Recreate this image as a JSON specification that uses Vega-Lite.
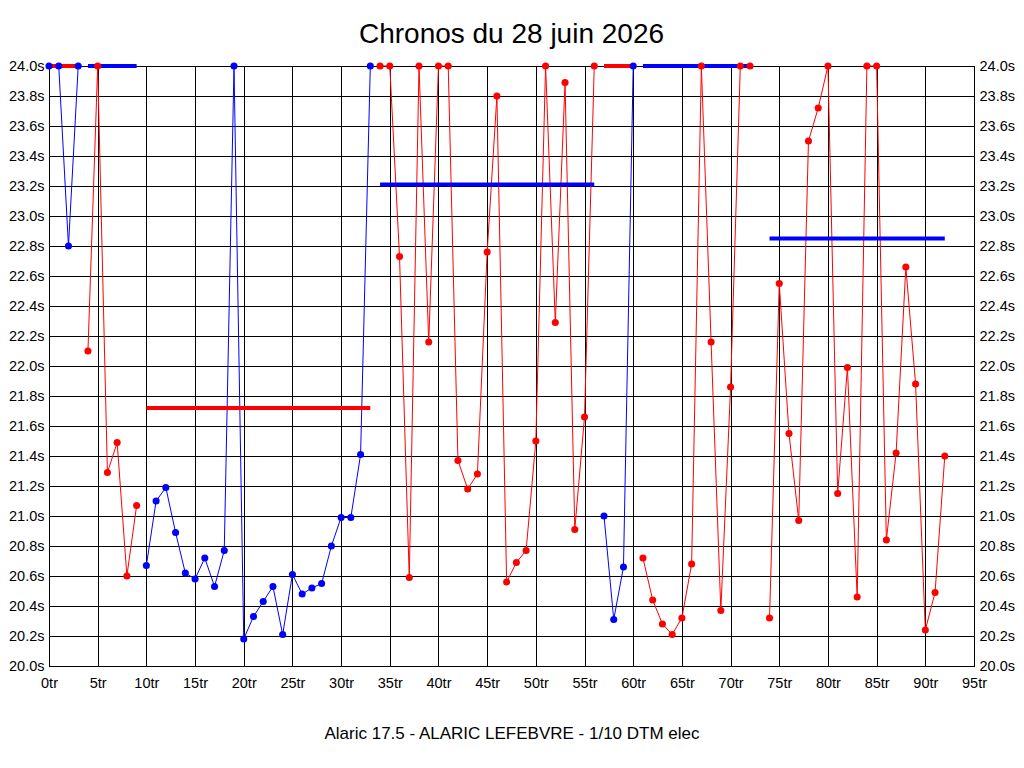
{
  "$schema": "https://vega.github.io/schema/vega-lite/v6.json",
  "autosize": {"type": "none"},
  "width": 925,
  "height": 600,
  "padding": {"left": 49, "top": 66, "right": 50, "bottom": 102},
  "background": "white",
  "title": {
    "text": "Chronos du 28 juin 2026",
    "fontSize": 28,
    "fontWeight": "normal",
    "font": "Liberation Sans",
    "color": "black",
    "anchor": "middle",
    "offset": 9
  },
  "datasets": {
    "tours": [
      {"tour": 0, "temps": 24.0, "relais": 1, "groupe": "A"},
      {"tour": 1, "temps": 24.0, "relais": 1, "groupe": "A"},
      {"tour": 2, "temps": 22.8, "relais": 1, "groupe": "A"},
      {"tour": 3, "temps": 24.0, "relais": 1, "groupe": "A"},
      {"tour": 4, "temps": 22.1, "relais": 2, "groupe": "B"},
      {"tour": 5, "temps": 24.0, "relais": 2, "groupe": "B"},
      {"tour": 6, "temps": 21.29, "relais": 2, "groupe": "B"},
      {"tour": 7, "temps": 21.49, "relais": 2, "groupe": "B"},
      {"tour": 8, "temps": 20.6, "relais": 2, "groupe": "B"},
      {"tour": 9, "temps": 21.07, "relais": 2, "groupe": "B"},
      {"tour": 10, "temps": 20.67, "relais": 3, "groupe": "A"},
      {"tour": 11, "temps": 21.1, "relais": 3, "groupe": "A"},
      {"tour": 12, "temps": 21.19, "relais": 3, "groupe": "A"},
      {"tour": 13, "temps": 20.89, "relais": 3, "groupe": "A"},
      {"tour": 14, "temps": 20.62, "relais": 3, "groupe": "A"},
      {"tour": 15, "temps": 20.58, "relais": 3, "groupe": "A"},
      {"tour": 16, "temps": 20.72, "relais": 3, "groupe": "A"},
      {"tour": 17, "temps": 20.53, "relais": 3, "groupe": "A"},
      {"tour": 18, "temps": 20.77, "relais": 3, "groupe": "A"},
      {"tour": 19, "temps": 24.0, "relais": 3, "groupe": "A"},
      {"tour": 20, "temps": 20.18, "relais": 3, "groupe": "A"},
      {"tour": 21, "temps": 20.33, "relais": 3, "groupe": "A"},
      {"tour": 22, "temps": 20.43, "relais": 3, "groupe": "A"},
      {"tour": 23, "temps": 20.53, "relais": 3, "groupe": "A"},
      {"tour": 24, "temps": 20.21, "relais": 3, "groupe": "A"},
      {"tour": 25, "temps": 20.61, "relais": 3, "groupe": "A"},
      {"tour": 26, "temps": 20.48, "relais": 3, "groupe": "A"},
      {"tour": 27, "temps": 20.52, "relais": 3, "groupe": "A"},
      {"tour": 28, "temps": 20.55, "relais": 3, "groupe": "A"},
      {"tour": 29, "temps": 20.8, "relais": 3, "groupe": "A"},
      {"tour": 30, "temps": 20.99, "relais": 3, "groupe": "A"},
      {"tour": 31, "temps": 20.99, "relais": 3, "groupe": "A"},
      {"tour": 32, "temps": 21.41, "relais": 3, "groupe": "A"},
      {"tour": 33, "temps": 24.0, "relais": 3, "groupe": "A"},
      {"tour": 34, "temps": 24.0, "relais": 4, "groupe": "B"},
      {"tour": 35, "temps": 24.0, "relais": 4, "groupe": "B"},
      {"tour": 36, "temps": 22.73, "relais": 4, "groupe": "B"},
      {"tour": 37, "temps": 20.59, "relais": 4, "groupe": "B"},
      {"tour": 38, "temps": 24.0, "relais": 4, "groupe": "B"},
      {"tour": 39, "temps": 22.16, "relais": 4, "groupe": "B"},
      {"tour": 40, "temps": 24.0, "relais": 4, "groupe": "B"},
      {"tour": 41, "temps": 24.0, "relais": 4, "groupe": "B"},
      {"tour": 42, "temps": 21.37, "relais": 4, "groupe": "B"},
      {"tour": 43, "temps": 21.18, "relais": 4, "groupe": "B"},
      {"tour": 44, "temps": 21.28, "relais": 4, "groupe": "B"},
      {"tour": 45, "temps": 22.76, "relais": 4, "groupe": "B"},
      {"tour": 46, "temps": 23.8, "relais": 4, "groupe": "B"},
      {"tour": 47, "temps": 20.56, "relais": 4, "groupe": "B"},
      {"tour": 48, "temps": 20.69, "relais": 4, "groupe": "B"},
      {"tour": 49, "temps": 20.77, "relais": 4, "groupe": "B"},
      {"tour": 50, "temps": 21.5, "relais": 4, "groupe": "B"},
      {"tour": 51, "temps": 24.0, "relais": 4, "groupe": "B"},
      {"tour": 52, "temps": 22.29, "relais": 4, "groupe": "B"},
      {"tour": 53, "temps": 23.89, "relais": 4, "groupe": "B"},
      {"tour": 54, "temps": 20.91, "relais": 4, "groupe": "B"},
      {"tour": 55, "temps": 21.66, "relais": 4, "groupe": "B"},
      {"tour": 56, "temps": 24.0, "relais": 4, "groupe": "B"},
      {"tour": 57, "temps": 21.0, "relais": 5, "groupe": "A"},
      {"tour": 58, "temps": 20.31, "relais": 5, "groupe": "A"},
      {"tour": 59, "temps": 20.66, "relais": 5, "groupe": "A"},
      {"tour": 60, "temps": 24.0, "relais": 5, "groupe": "A"},
      {"tour": 61, "temps": 20.72, "relais": 6, "groupe": "B"},
      {"tour": 62, "temps": 20.44, "relais": 6, "groupe": "B"},
      {"tour": 63, "temps": 20.28, "relais": 6, "groupe": "B"},
      {"tour": 64, "temps": 20.21, "relais": 6, "groupe": "B"},
      {"tour": 65, "temps": 20.32, "relais": 6, "groupe": "B"},
      {"tour": 66, "temps": 20.68, "relais": 6, "groupe": "B"},
      {"tour": 67, "temps": 24.0, "relais": 6, "groupe": "B"},
      {"tour": 68, "temps": 22.16, "relais": 6, "groupe": "B"},
      {"tour": 69, "temps": 20.37, "relais": 6, "groupe": "B"},
      {"tour": 70, "temps": 21.86, "relais": 6, "groupe": "B"},
      {"tour": 71, "temps": 24.0, "relais": 6, "groupe": "B"},
      {"tour": 72, "temps": 24.0, "relais": 6, "groupe": "B"},
      {"tour": 74, "temps": 20.32, "relais": 7, "groupe": "B"},
      {"tour": 75, "temps": 22.55, "relais": 7, "groupe": "B"},
      {"tour": 76, "temps": 21.55, "relais": 7, "groupe": "B"},
      {"tour": 77, "temps": 20.97, "relais": 7, "groupe": "B"},
      {"tour": 78, "temps": 23.5, "relais": 7, "groupe": "B"},
      {"tour": 79, "temps": 23.72, "relais": 7, "groupe": "B"},
      {"tour": 80, "temps": 24.0, "relais": 7, "groupe": "B"},
      {"tour": 81, "temps": 21.15, "relais": 7, "groupe": "B"},
      {"tour": 82, "temps": 21.99, "relais": 7, "groupe": "B"},
      {"tour": 83, "temps": 20.46, "relais": 7, "groupe": "B"},
      {"tour": 84, "temps": 24.0, "relais": 7, "groupe": "B"},
      {"tour": 85, "temps": 24.0, "relais": 7, "groupe": "B"},
      {"tour": 86, "temps": 20.84, "relais": 7, "groupe": "B"},
      {"tour": 87, "temps": 21.42, "relais": 7, "groupe": "B"},
      {"tour": 88, "temps": 22.66, "relais": 7, "groupe": "B"},
      {"tour": 89, "temps": 21.88, "relais": 7, "groupe": "B"},
      {"tour": 90, "temps": 20.24, "relais": 7, "groupe": "B"},
      {"tour": 91, "temps": 20.49, "relais": 7, "groupe": "B"},
      {"tour": 92, "temps": 21.4, "relais": 7, "groupe": "B"}
    ],
    "moyennes": [
      {"debut": 0, "fin": 3, "moyenne": 24.0, "groupe": "B"},
      {"debut": 4, "fin": 9, "moyenne": 24.0, "groupe": "A"},
      {"debut": 10, "fin": 33, "moyenne": 21.72, "groupe": "B"},
      {"debut": 34, "fin": 56, "moyenne": 23.21, "groupe": "A"},
      {"debut": 57, "fin": 60, "moyenne": 24.0, "groupe": "B"},
      {"debut": 61, "fin": 72, "moyenne": 24.0, "groupe": "A"},
      {"debut": 74, "fin": 92, "moyenne": 22.85, "groupe": "A"}
    ]
  },
  "layer": [
    {
      "data": {"name": "tours"},
      "mark": {"type": "line", "strokeWidth": 1},
      "encoding": {
        "x": {
          "field": "tour",
          "type": "quantitative",
          "scale": {"domain": [0, 95], "nice": false},
          "axis": {
            "title": "Alaric 17.5 - ALARIC LEFEBVRE - 1/10 DTM elec",
            "values": [0, 5, 10, 15, 20, 25, 30, 35, 40, 45, 50, 55, 60, 65, 70, 75, 80, 85, 90, 95],
            "labelExpr": "datum.value + 'tr'",
            "labelPadding": 10,
            "titlePadding": 36
          }
        },
        "y": {
          "field": "temps",
          "type": "quantitative",
          "scale": {"domain": [20, 24], "nice": false, "zero": false},
          "axis": {
            "title": null,
            "orient": "left",
            "values": [20, 20.2, 20.4, 20.6, 20.8, 21, 21.2, 21.4, 21.6, 21.8, 22, 22.2, 22.4, 22.6, 22.8, 23, 23.2, 23.4, 23.6, 23.8, 24],
            "labelExpr": "format(datum.value, '.1f') + 's'",
            "labelPadding": 5
          }
        },
        "detail": {"field": "relais", "type": "nominal"},
        "color": {
          "field": "groupe",
          "type": "nominal",
          "scale": {"domain": ["A", "B"], "range": ["#0000ff", "#ff0000"]},
          "legend": null
        }
      }
    },
    {
      "data": {"name": "moyennes"},
      "mark": {"type": "rule", "strokeWidth": 4},
      "encoding": {
        "x": {"field": "debut", "type": "quantitative", "title": "Alaric 17.5 - ALARIC LEFEBVRE - 1/10 DTM elec"},
        "x2": {"field": "fin"},
        "y": {
          "field": "moyenne",
          "type": "quantitative",
          "axis": {
            "title": null,
            "orient": "right",
            "grid": false,
            "values": [20, 20.2, 20.4, 20.6, 20.8, 21, 21.2, 21.4, 21.6, 21.8, 22, 22.2, 22.4, 22.6, 22.8, 23, 23.2, 23.4, 23.6, 23.8, 24],
            "labelExpr": "format(datum.value, '.1f') + 's'",
            "labelPadding": 5
          }
        },
        "color": {"field": "groupe", "type": "nominal", "legend": null}
      }
    },
    {
      "data": {"name": "tours"},
      "mark": {"type": "circle", "size": 50, "opacity": 1},
      "encoding": {
        "x": {"field": "tour", "type": "quantitative", "title": "Alaric 17.5 - ALARIC LEFEBVRE - 1/10 DTM elec"},
        "y": {"field": "temps", "type": "quantitative", "axis": null},
        "color": {"field": "groupe", "type": "nominal", "legend": null}
      }
    }
  ],
  "resolve": {"axis": {"y": "independent"}},
  "config": {
    "font": "Liberation Sans",
    "view": {"stroke": "black", "strokeWidth": 1},
    "axis": {
      "gridColor": "black",
      "gridOpacity": 1,
      "gridWidth": 1,
      "domainColor": "black",
      "ticks": false,
      "labelFlush": false,
      "labelColor": "black",
      "labelFont": "Liberation Sans",
      "labelFontSize": 14.5,
      "titleFont": "Liberation Sans",
      "titleFontSize": 17,
      "titleFontWeight": "normal",
      "titleColor": "black"
    }
  }
}
